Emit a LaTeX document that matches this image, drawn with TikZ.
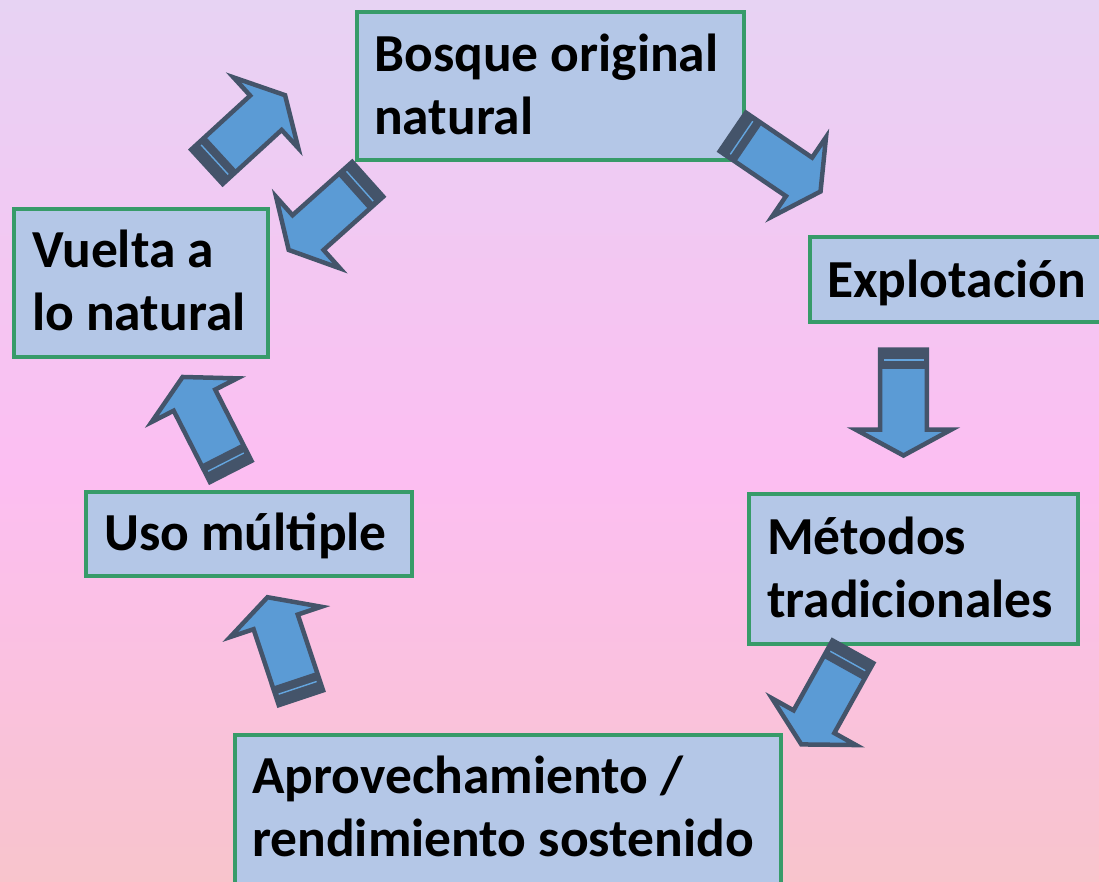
\documentclass[tikz,border=0pt]{standalone}
\usepackage{fontspec}
\setmainfont{Carlito}
\definecolor{boxfill}{RGB}{180,199,231}
\definecolor{boxline}{RGB}{55,155,105}
\definecolor{arrfill}{RGB}{91,155,213}
\definecolor{arrline}{RGB}{68,84,106}
\definecolor{arrstripe}{RGB}{100,165,222}
\definecolor{bgtop}{RGB}{231,211,243}
\definecolor{bgmid}{RGB}{252,190,242}
\definecolor{bgbot}{RGB}{248,196,204}
\begin{document}
\begin{tikzpicture}[x=1pt,y=-1pt,
  box/.style={draw=boxline, fill=boxfill, line width=4pt, inner sep=0pt, anchor=north west},
  lbl/.style={anchor=base west, inner sep=0pt, align=flush left, text width=600pt,
    font=\fontsize{53.5}{63}\selectfont\bfseries},
  blockarrow/.pic={
    \fill[arrfill] (-53,-23.3) -- (27,-23.3) -- (27,-48) -- (53,0) -- (27,48) -- (27,23.3) -- (-53,23.3) -- cycle;
    \fill[arrline] (-53,-23.3) rectangle (-33.5,23.3);
    \draw[arrstripe, line width=1.4pt] (-42.5,-20) -- (-42.5,20);
    \draw[arrline, line width=4.5pt, line join=miter] (-53,-23.3) -- (27,-23.3) -- (27,-48) -- (53,0) -- (27,48) -- (27,23.3) -- (-53,23.3) -- cycle;
  }]
\useasboundingbox (0,0) rectangle (1099,881);
\shade[top color=bgtop, bottom color=bgmid] (0,0) rectangle (1099,470);
\shade[top color=bgmid, bottom color=bgbot] (0,469.5) rectangle (1099,881);

% boxes
\node[box, minimum width=387pt, minimum height=148pt] (b1) at (355,10) {};
\node[box, minimum width=302pt, minimum height=85pt] (b2) at (808,235) {};
\node[box, minimum width=329pt, minimum height=150pt] (b3) at (747,492) {};
\node[box, minimum width=546pt, minimum height=170pt] (b4) at (233,733) {};
\node[box, minimum width=326pt, minimum height=84pt] (b5) at (84,490) {};
\node[box, minimum width=254pt, minimum height=148pt] (b6) at (12,207) {};

% texts
\node[lbl] (t1) at (374,71) {Bosque original\\natural};
\node[lbl] (t2) at (827,297) {Explotación};
\node[lbl] (t3) at (767,554) {Métodos\\tradicionales};
\node[lbl] (t4) at (252,793) {Aprovechamiento /\\rendimiento sostenido};
\node[lbl] (t5) at (104,550) {Uso múltiple};
\node[lbl] (t6) at (32,267) {Vuelta a\\lo natural};

% block arrows
\pic[rotate=42.5] (a1) at (246,131) {blockarrow};
\pic[rotate=221.8] (a2) at (328.2,214.6) {blockarrow};
\pic[rotate=-34.2] (a3) at (776.7,161.7) {blockarrow};
\pic[rotate=-90] (a4) at (903.5,402.5) {blockarrow};
\pic[rotate=-119.1] (a5) at (827.1,698.1) {blockarrow};
\pic[rotate=108.4] (a6) at (284.2,647.5) {blockarrow};
\pic[rotate=117] (a7) at (206.7,424.2) {blockarrow};
\end{tikzpicture}
\end{document}
